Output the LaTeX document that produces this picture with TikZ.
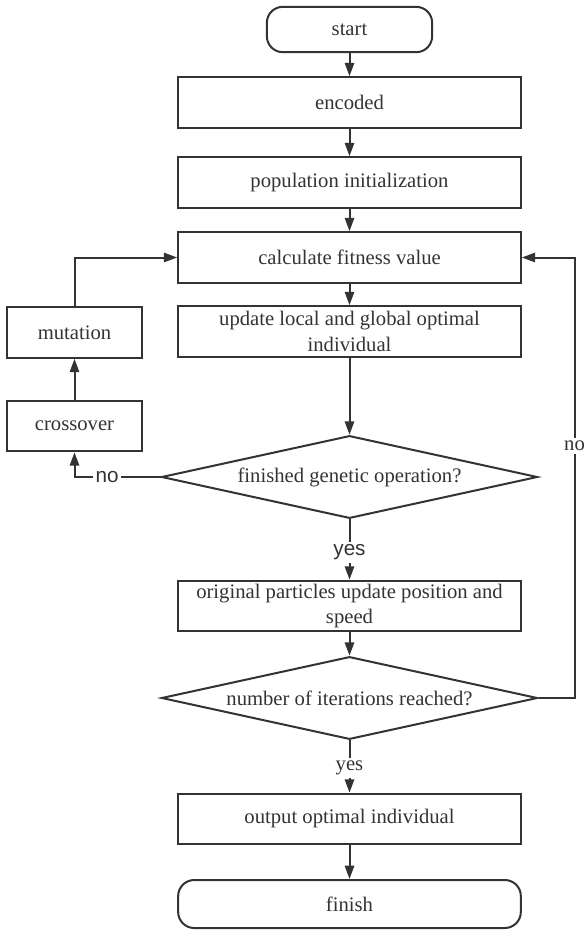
\documentclass[tikz,border=0pt]{standalone}
\usepackage{fontspec}
\setmainfont{Liberation Serif}
\newfontfamily\labelfont{Liberation Sans}
\usepackage{xcolor}
\usetikzlibrary{shapes.geometric, arrows.meta, positioning, calc}
\definecolor{flowGray}{RGB}{51, 51, 51}

\begin{document}
\begin{tikzpicture}[x=0.75pt, y=-0.75pt]
        \tikzstyle{box} = [rectangle, minimum width=257pt, minimum height=38pt, align=center, font=\fontsize{15.5}{19}\selectfont, draw=flowGray, text=flowGray, line width=1.5pt, inner sep=1pt]
        \tikzstyle{sidebox} = [box, minimum width=101pt]
        \tikzstyle{terminal} = [box, rounded corners=12pt]
        \tikzstyle{decision} = [diamond, aspect=4.5, minimum width=282pt, minimum height=62pt, inner sep=0pt, font=\fontsize{15.5}{19}\selectfont, draw=flowGray, text=flowGray, line width=1.5pt]
        \tikzstyle{arrow} = [-{Triangle[length=10pt, width=7pt]}, line width=1.5pt, flowGray]
        \tikzstyle{lbl} = [fill=white, inner sep=2pt, font=\fontsize{15.5}{19}\selectfont, text=flowGray]
        \tikzstyle{sanslbl} = [lbl, font=\labelfont\fontsize{15.5}{19}\selectfont]

        \useasboundingbox (0,0) rectangle (584,932);

        % Main column
        \node[terminal, minimum width=124pt, minimum height=34pt] (start) at (349.5,29.5) {start};
        \node[box] (encoded) at (349.5,102.5) {encoded};
        \node[box] (popinit) at (349.5,182.5) {population initialization};
        \node[box] (fitness) at (349.5,257.5) {calculate fitness value};
        \node[box] (update) at (349.5,331.5) {update local and global optimal\\individual};
        \node[decision] (genetic) at (349.5,477) {finished genetic operation?};
        \node[box] (particles) at (349.5,606) {original particles update position and\\speed};
        \node[decision] (iter) at (349.5,698) {number of iterations reached?};
        \node[box] (output) at (349.5,819) {output optimal individual};
        \node[terminal, minimum height=36pt] (finish) at (349.5,904) {finish};

        % Genetic operations
        \node[sidebox] (crossover) at (74.5,426) {crossover};
        \node[sidebox] (mutation) at (74.5,332.5) {mutation};

        \draw[arrow] (start) -- (encoded);
        \draw[arrow] (encoded) -- (popinit);
        \draw[arrow] (popinit) -- (fitness);
        \draw[arrow] (fitness) -- (update);
        \draw[arrow] (update) -- (genetic);
        \draw[arrow] (genetic) -- node[sanslbl, pos=0.55] {yes} (particles);
        \draw[arrow] (particles) -- (iter);
        \draw[arrow] (iter) -- node[lbl, pos=0.53] {yes} (output);
        \draw[arrow] (output) -- (finish);

        \draw[arrow] (genetic.west) -| node[sanslbl, pos=0.31] {no} (crossover.south);
        \draw[arrow] (crossover) -- (mutation);
        \draw[arrow] (mutation.north) |- (fitness.west);
        \draw[arrow] (iter.east) -- ++(36,0) |- node[lbl, pos=0.286] {no} (fitness.east);
    \end{tikzpicture}
\end{document}
